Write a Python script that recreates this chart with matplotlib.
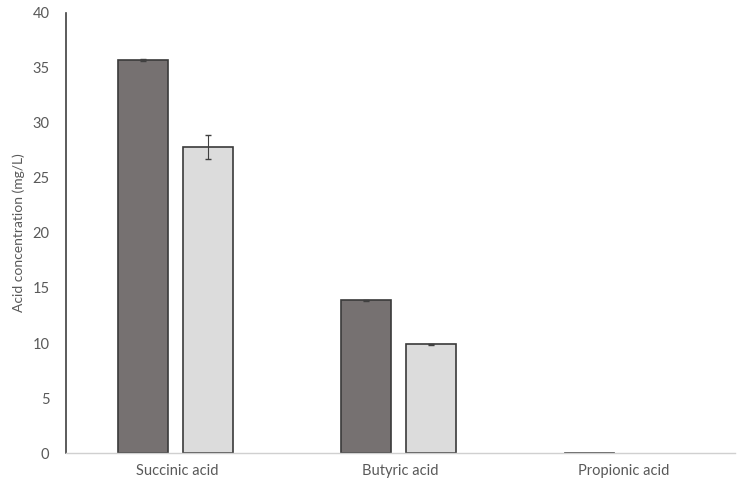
import numpy as np
import matplotlib.pyplot as plt

plt.rcParams['font.family'] = ['Lato', 'DejaVu Sans']

categories = ['Succinic acid', 'Butyric acid', 'Propionic acid']
dark_vals = [35.7, 13.9, 0.1]
dark_err = [0.1, 0.05, np.nan]
light_vals = [27.8, 9.9, 0.0]
light_err = [1.1, 0.05, np.nan]

fig = plt.figure(figsize=(7.51, 4.93), dpi=100)
ax = fig.add_axes([0.088, 0.081, 0.891, 0.893])

x = np.arange(len(categories))
w = 0.222
off = 0.146
ax.bar(x - off - 0.01, dark_vals, w, yerr=dark_err, color='#767171', edgecolor='#3a3a3a',
       linewidth=[1.2, 1.2, 0.5], error_kw=dict(ecolor='#404040', elinewidth=0.8, capsize=2.5))
ax.bar(x + off - 0.01, light_vals, w, yerr=light_err, color='#dcdcdc', edgecolor='#3a3a3a',
       linewidth=[1.2 if v > 0 else 0 for v in light_vals],
       error_kw=dict(ecolor='#404040', elinewidth=0.8, capsize=2.5))

ax.set_xlim(-0.5, 2.5)
ax.set_ylim(0, 40)
ax.set_yticks(range(0, 41, 5))
ax.set_xticks(x)
ax.set_xticklabels(categories)
ax.tick_params(axis='both', length=0, labelsize=10.5, labelcolor='#595959', pad=8)
ax.tick_params(axis='y', pad=12)
ax.set_ylabel('Acid concentration (mg/L)', fontsize=10, color='#595959', labelpad=5)

for s in ['top', 'right']:
    ax.spines[s].set_visible(False)
ax.spines['left'].set_color('#404040')
ax.spines['left'].set_linewidth(1.2)
ax.spines['bottom'].set_color('#d0d0d0')
ax.spines['bottom'].set_linewidth(1.0)

fig.savefig('out.png', dpi=100)
